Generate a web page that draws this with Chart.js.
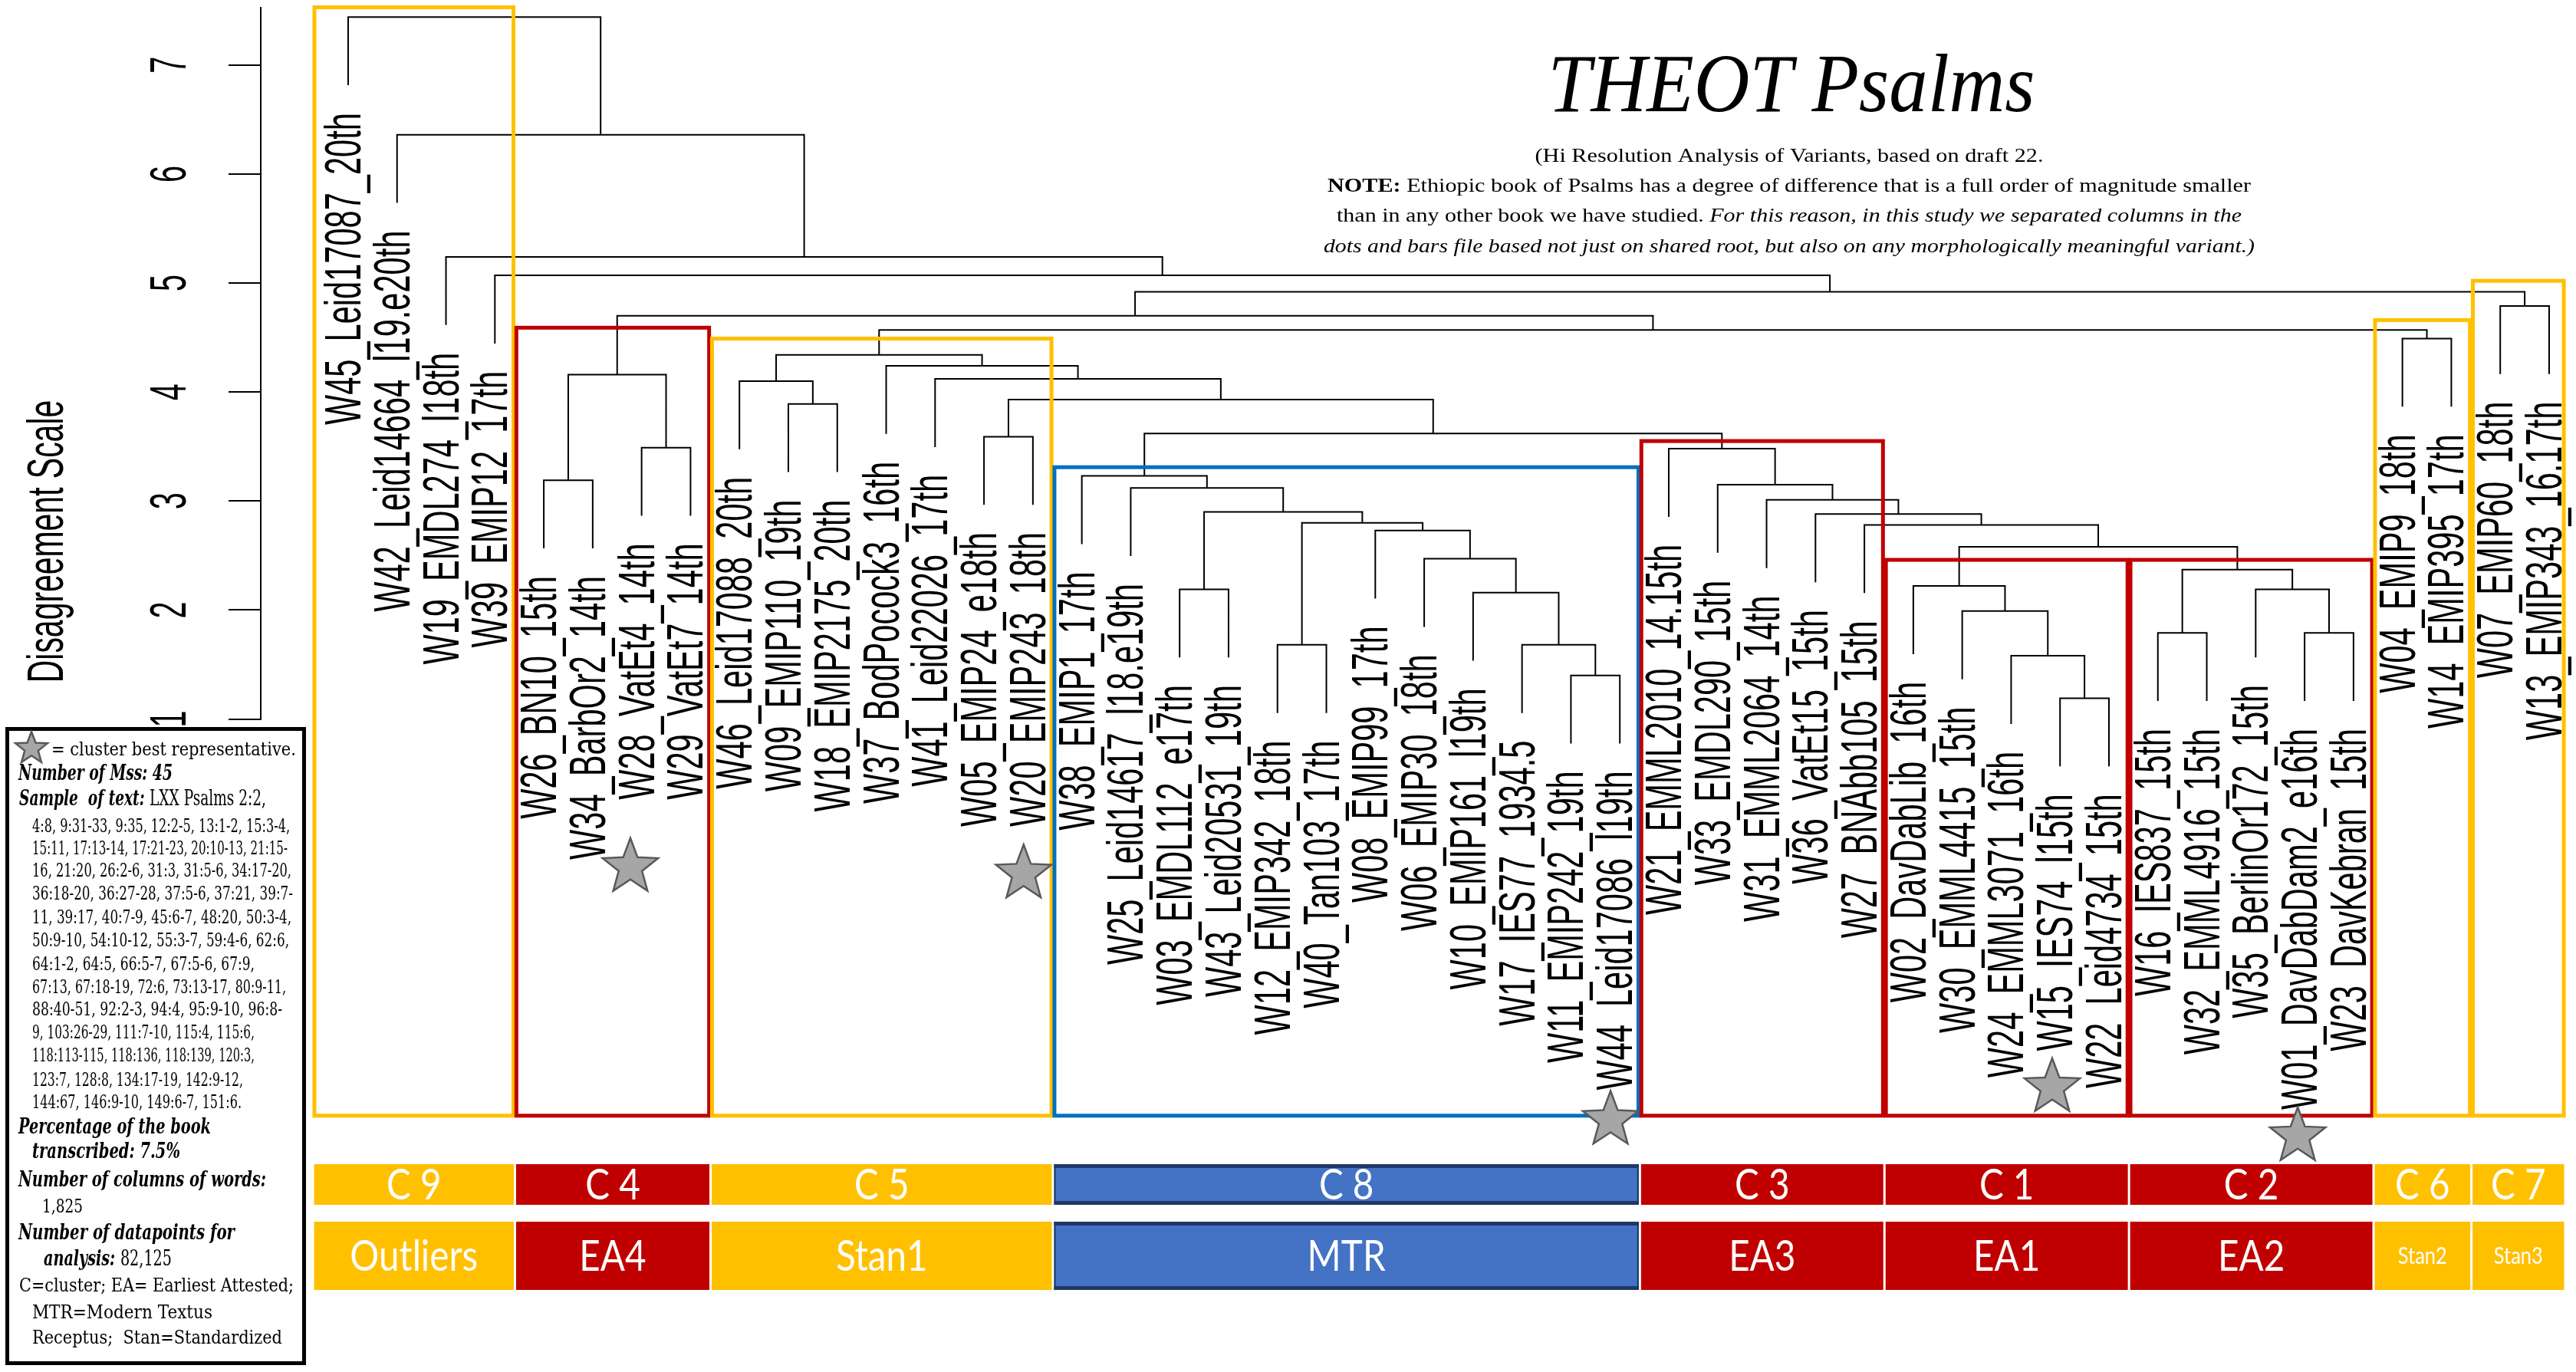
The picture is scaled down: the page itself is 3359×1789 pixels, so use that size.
<!DOCTYPE html>
<html><head><meta charset="utf-8">
<script src="https://cdn.jsdelivr.net/npm/chart.js@4"></script>
<style>html,body{margin:0;padding:0;background:#fff}#wrap{width:3359px;height:1789px;position:relative}</style>
</head><body><div id="wrap"><canvas id="c"></canvas></div>
<script>
// ---------- DATA ----------
const leafLabels = [
"W45_Leid17087_20th","W42_Leid14664_l19.e20th","W19_EMDL274_l18th","W39_EMIP12_17th",
"W26_BN10_15th","W34_BarbOr2_14th","W28_VatEt4_14th","W29_VatEt7_14th",
"W46_Leid17088_20th","W09_EMIP110_19th","W18_EMIP2175_20th","W37_BodPocock3_16th","W41_Leid22026_17th","W05_EMIP24_e18th","W20_EMIP243_18th",
"W38_EMIP1_17th","W25_Leid14617_l18.e19th","W03_EMDL112_e17th","W43_Leid20531_19th","W12_EMIP342_18th","W40_Tan103_17th","W08_EMIP99_17th","W06_EMIP30_18th","W10_EMIP161_l19th","W17_IES77_1934.5","W11_EMIP242_19th","W44_Leid17086_l19th",
"W21_EMML2010_14.15th","W33_EMDL290_15th","W31_EMML2064_14th","W36_VatEt15_15th","W27_BNAbb105_15th",
"W02_DavDabLib_16th","W30_EMML4415_15th","W24_EMML3071_16th","W15_IES74_l15th","W22_Leid4734_15th",
"W16_IES837_15th","W32_EMML4916_15th","W35_BerlinOr172_15th","W01_DavDabDam2_e16th","W23_DavKebran_15th",
"W04_EMIP9_18th","W14_EMIP395_17th","W07_EMIP60_18th","W13_EMIP343_16.17th"
];
// hclust-style merges: negative = leaf (1-based, in plotted order), positive = earlier merge row (1-based)
const mergeLeft   = [-36,-26,-35,-20,-25,-38,-41,-34,-24,-18,-40,-33, 6,-23,12,-22,-32, 4,-31,10,-30,-17,-29,-16,-28,-14,24,-10,26,-9,-13,-12,30,-5,-7,34,-43,33,36,-45,39,-4,-3,-2,-1];
const mergeRight  = [-37,-27,  1,-21,  2,-39,-42,  3,  5,-19,  7,  8,11,  9,13,14,15,16,17,18,19,20,21,22,23,-15,25,-11,27,28,29,31,32,-6,-8,35,-44,37,38,-46,40,41,42,43,44];
const mergeHeight = [1.19,1.40,1.58,1.68,1.68,1.79,1.79,1.99,2.16,2.19,2.19,2.22,2.37,2.47,2.58,2.73,2.78,2.80,2.88,2.90,3.01,3.12,3.15,3.23,3.48,3.59,3.62,3.89,3.93,4.10,4.12,4.24,4.34,3.19,3.49,4.16,4.49,4.57,4.70,4.79,4.92,5.07,5.24,6.36,7.44];
const yTickValues = [1,2,3,4,5,6,7];
const clusterNames = ["C 9","C 4","C 5","C 8","C 3","C 1","C 2","C 6","C 7"];
const groupNames = ["Outliers","EA4","Stan1","MTR","EA3","EA1","EA2","Stan2","Stan3"];
const clusterFirstLeaf = [1,5,9,16,28,33,38,43,45];
const clusterLastLeaf  = [4,8,15,27,32,37,42,44,46];
const clusterKind = ["stan","ea","stan","mtr","ea","ea","ea","stan","stan"];

// ---------- LAYOUT / STYLE ----------
const boxTopLevel = [7.53,4.59,4.49,3.31,3.55,2.46,2.46,4.66,5.02];
const boxBottomLevel = -2.64;
const starSpots = [[6.77,-0.36],[14.81,-0.42],[26.81,-2.68],[35.84,-2.38],[40.86,-2.83]];
const colors = {stan:"#FFC000", ea:"#C00000", mtr:"#4472C4", mtrBox:"#0070C0", mtrEdge:"#203864"};
const legendLines = [
 {x:24,y:1010,w:201,p:[["bi","Number of Mss: 45"]]},
 {x:25,y:1043,w:322,p:[["bi","Sample  of text: "],["r","LXX Psalms 2:2,"]]},
 {x:42,y:1078,w:336,p:[["r","4:8, 9:31-33, 9:35, 12:2-5, 13:1-2, 15:3-4,"]]},
 {x:42,y:1107,w:333,p:[["r","15:11, 17:13-14, 17:21-23, 20:10-13, 21:15-"]]},
 {x:42,y:1136,w:338,p:[["r","16, 21:20, 26:2-6, 31:3, 31:5-6, 34:17-20,"]]},
 {x:42,y:1166,w:340,p:[["r","36:18-20, 36:27-28, 37:5-6, 37:21, 39:7-"]]},
 {x:42,y:1197,w:338,p:[["r","11, 39:17, 40:7-9, 45:6-7, 48:20, 50:3-4,"]]},
 {x:42,y:1227,w:335,p:[["r","50:9-10, 54:10-12, 55:3-7, 59:4-6, 62:6,"]]},
 {x:42,y:1258,w:290,p:[["r","64:1-2, 64:5, 66:5-7, 67:5-6, 67:9,"]]},
 {x:42,y:1288,w:331,p:[["r","67:13, 67:18-19, 72:6, 73:13-17, 80:9-11,"]]},
 {x:42,y:1317,w:326,p:[["r","88:40-51, 92:2-3, 94:4, 95:9-10, 96:8-"]]},
 {x:42,y:1347,w:290,p:[["r","9, 103:26-29, 111:7-10, 115:4, 115:6,"]]},
 {x:42,y:1377,w:290,p:[["r","118:113-115, 118:136, 118:139, 120:3,"]]},
 {x:42,y:1409,w:275,p:[["r","123:7, 128:8, 134:17-19, 142:9-12,"]]},
 {x:42,y:1438,w:273,p:[["r","144:67, 146:9-10, 149:6-7, 151:6."]]},
 {x:24,y:1471,w:251,p:[["bi","Percentage of the book"]]},
 {x:42,y:1503,w:193,p:[["bi","transcribed: 7.5%"]]},
 {x:24,y:1540,w:323,p:[["bi","Number of columns of words:"]]},
 {x:55,y:1574,w:53,p:[["r","1,825"]]},
 {x:24,y:1609,w:282,p:[["bi","Number of datapoints for"]]},
 {x:57,y:1643,w:167,p:[["bi","analysis: "],["r","82,125"]]},
 {x:25,y:1677,w:358,p:[["r","C=cluster; EA= Earliest Attested;"]]},
 {x:42,y:1712,w:235,p:[["r","MTR=Modern Textus"]]},
 {x:42,y:1745,w:326,p:[["r","Receptus;  Stan=Standardized"]]}
];
const subtitleLines = [
 {y:204,w:663,p:[["r","(Hi Resolution Analysis of Variants, based on draft 22."]]},
 {y:243,w:1204,p:[["b","NOTE:"],["r"," Ethiopic book of Psalms has a degree of difference that is a full order of magnitude smaller"]]},
 {y:282,w:1180,p:[["r","than in any other book we have studied. "],["i","For this reason, in this study we separated columns in the"]]},
 {y:322,w:1214,p:[["i","dots and bars file based not just on shared root, but also on any morphologically meaningful variant.)"]]}
];

// ---------- TREE GEOMETRY (from merges) ----------
const hang = 0.1*(Math.max(...mergeHeight)-Math.min(...mergeHeight));
const nodeX = [];
const leafBottom = [];
const segs = [];
function childOf(r,H){
  if(r<0){ leafBottom[-r]=H-hang; return {x:-r,y:H-hang}; }
  return {x:nodeX[r-1], y:mergeHeight[r-1]};
}
for(let i=0;i<mergeHeight.length;i++){
  const H=mergeHeight[i];
  const a=childOf(mergeLeft[i],H), b=childOf(mergeRight[i],H);
  nodeX[i]=(a.x+b.x)/2;
  segs.push({x:a.x,y:a.y},{x:a.x,y:H},{x:b.x,y:H},{x:b.x,y:b.y},{x:b.x,y:null});
}

// ---------- DRAW HELPERS ----------
const SANS="'Liberation Sans', Arial, sans-serif";
function fontFor(kind,size,fam){
  const s = kind==="bi"?"italic bold ":kind==="b"?"bold ":kind==="i"?"italic ":"";
  return s+size+"px "+fam;
}
function richText(ctx,parts,x,y,targetW,align,size,fam){
  let w=0; const ms=[];
  parts.forEach(p=>{ctx.font=fontFor(p[0],size,fam); const m=ctx.measureText(p[1]).width; ms.push(m); w+=m;});
  const s=targetW? targetW/w : 1;
  ctx.save(); ctx.translate(x,y); ctx.scale(s,1);
  ctx.textAlign="left"; ctx.textBaseline="middle";
  let cx = align==="center" ? -w/2 : 0;
  parts.forEach((p,i)=>{ctx.font=fontFor(p[0],size,fam); ctx.fillText(p[1],cx,0); cx+=ms[i];});
  ctx.restore();
}
function rotText(ctx,t,x,y,font,sx,align){
  ctx.save(); ctx.translate(x,y); ctx.rotate(-Math.PI/2); ctx.scale(sx,1);
  ctx.font=font; ctx.textAlign=align; ctx.textBaseline="alphabetic"; ctx.fillStyle="#000";
  ctx.fillText(t,0,0); ctx.restore();
}
function star(ctx,cx,cy,R){
  const r=R*0.42;
  ctx.beginPath();
  for(let i=0;i<10;i++){const a=-Math.PI/2+i*Math.PI/5; const rr=i%2?r:R; ctx.lineTo(cx+rr*Math.cos(a),cy+rr*Math.sin(a));}
  ctx.closePath(); ctx.fillStyle="#A6A6A6"; ctx.fill();
  ctx.strokeStyle="#595959"; ctx.lineWidth=2.5; ctx.lineJoin="miter"; ctx.stroke();
}
function boundaries(){
  const b=[clusterFirstLeaf[0]-0.72];
  clusterLastLeaf.forEach((l,i)=>{ b.push(i===clusterLastLeaf.length-1 ? l+0.33 : l+0.41); });
  return b;
}

const drawPlugin = {
  id:"dendroExtras",
  afterDraw(chart){
    const ctx=chart.ctx, xs=chart.scales.x, ys=chart.scales.y;
    const px=v=>xs.getPixelForValue(v), py=v=>ys.getPixelForValue(v);
    ctx.save();
    // y tick labels (rotated, like R)
    yTickValues.forEach(v=>rotText(ctx,String(v),242,py(v),"66px "+SANS,0.6,"center"));
    // axis title
    rotText(ctx,"Disagreement Scale",82,706,"66px "+SANS,0.62,"center");
    // leaf labels
    leafLabels.forEach((t,i)=>{
      const L=i+1;
      rotText(ctx,t,px(L)+16,py(leafBottom[L])+36,"66px "+SANS,0.63,"right");
    });
    // cluster boxes
    const bd=boundaries();
    ctx.lineWidth=5;
    clusterNames.forEach((n,k)=>{
      const x0=px(bd[k]+0.03), x1=px(bd[k+1]-0.03);
      const y0=py(boxTopLevel[k]), y1=py(boxBottomLevel);
      ctx.strokeStyle = clusterKind[k]==="mtr"?colors.mtrBox:colors[clusterKind[k]];
      ctx.strokeRect(x0,y0,x1-x0,y1-y0);
    });
    // stars
    starSpots.forEach(s=>star(ctx,px(s[0]),py(s[1]),38));
    // bottom bars
    const rows=[[1518,1571,clusterNames],[1593,1682,groupNames]];
    rows.forEach(([ya,yb,names])=>{
      names.forEach((n,k)=>{
        const x0=px(bd[k])+1.5, x1=px(bd[k+1])-1.5;
        const kind=clusterKind[k];
        ctx.fillStyle=colors[kind];
        ctx.fillRect(x0,ya,x1-x0,yb-ya);
        if(kind==="mtr"){
          ctx.fillStyle=colors.mtrEdge;
          ctx.fillRect(x0,ya,x1-x0,5); ctx.fillRect(x0,yb-5,x1-x0,5);
          ctx.fillRect(x0,ya,2,yb-ya); ctx.fillRect(x1-2,ya,2,yb-ya);
        }
        const narrow = (x1-x0) < 150 && names===groupNames;
        const size = narrow ? 30 : 56;
        ctx.save();
        ctx.translate((x0+x1)/2,(ya+yb)/2+1);
        ctx.scale(0.85,1);
        ctx.fillStyle="#fff"; ctx.font=size+"px Lato, 'Open Sans', sans-serif";
        ctx.textAlign="center"; ctx.textBaseline="middle";
        ctx.fillText(n,0,0);
        ctx.restore();
      });
    });
    // title block
    ctx.fillStyle="#000";
    richText(ctx,[["i","THEOT Psalms"]],2336,117,635,"center",108,"'Liberation Serif', serif");
    subtitleLines.forEach(l=>richText(ctx,l.p,2333,l.y,l.w,"center",26,"'Liberation Serif', serif"));
    // legend box
    ctx.fillStyle="#fff"; ctx.fillRect(9,950,388,828);
    ctx.strokeStyle="#000"; ctx.lineWidth=5; ctx.strokeRect(9.5,950.5,387,827);
    star(ctx,41,976,22);
    ctx.fillStyle="#000";
    richText(ctx,[["r","= cluster best representative."]],67,978,319,"left",25,"'DejaVu Serif', serif");
    legendLines.forEach(l=>{
      const sz = l.p[0][0]==="bi" ? 28 : 25;
      richText(ctx,l.p,l.x,l.y,l.w,"left",sz,"'DejaVu Serif', serif");
    });
    ctx.restore();
  }
};

new Chart(document.getElementById("c"),{
  type:"scatter",
  data:{datasets:[{data:segs,showLine:true,borderColor:"#000",borderWidth:2,pointRadius:0,pointHoverRadius:0,clip:false,spanGaps:false,tension:0}]},
  options:{
    responsive:true,maintainAspectRatio:false,animation:false,devicePixelRatio:1,events:[],
    layout:{padding:{top:9,bottom:851.5,left:0,right:0}},
    plugins:{legend:{display:false},tooltip:{enabled:false},title:{display:false}},
    scales:{
      x:{type:"linear",display:false,min:-0.787,max:46.549},
      y:{type:"linear",min:1,max:7.525,
         afterFit(s){s.width=340;},
         afterBuildTicks(s){s.ticks=yTickValues.map(v=>({value:v}));},
         ticks:{color:"rgba(0,0,0,0)",stepSize:1,includeBounds:false},
         grid:{drawOnChartArea:false,drawTicks:true,tickLength:42,color:"#000",lineWidth:2},
         border:{display:true,color:"#000",width:2}}
    }
  },
  plugins:[drawPlugin]
});
</script></body></html>
